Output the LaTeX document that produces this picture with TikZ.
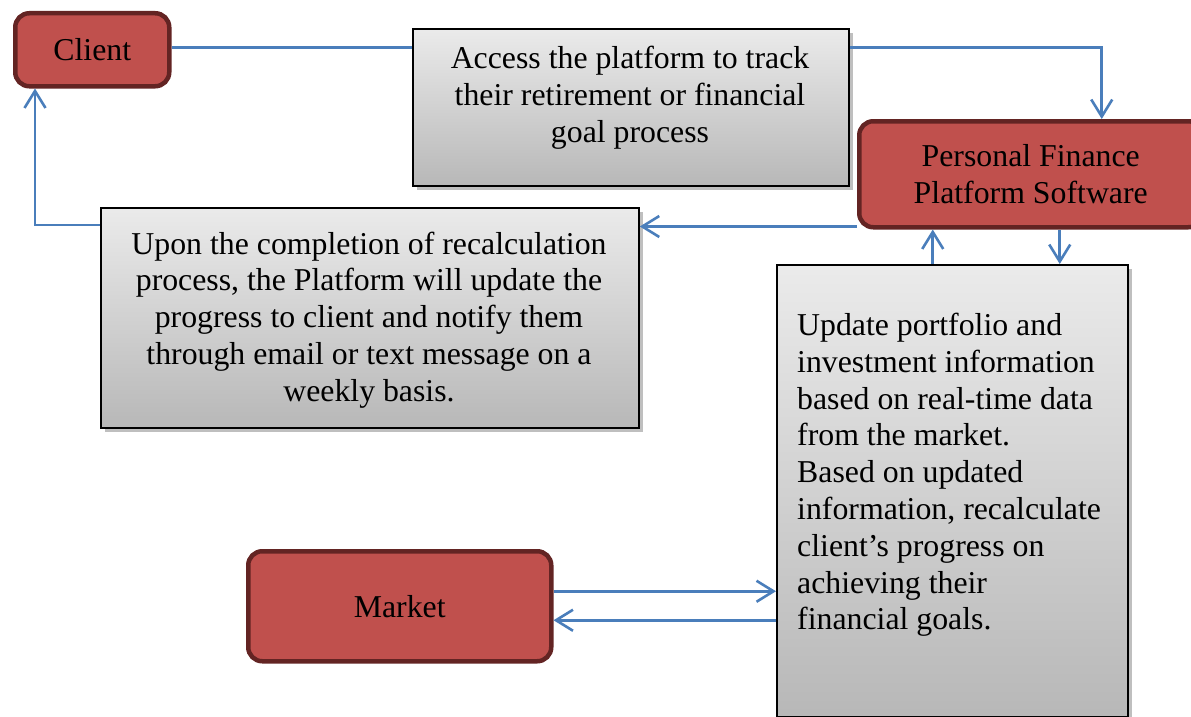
\documentclass[tikz,border=0pt]{standalone}
\usepackage{fontspec}
\setmainfont{Liberation Serif}
\usetikzlibrary{arrows.meta,shadows}
\definecolor{boxred}{HTML}{C0504D}
\definecolor{boxedge}{HTML}{632423}
\definecolor{flowblue}{HTML}{4A7EBB}
\tikzset{
  redbox/.style={draw=boxedge, line width=4.5pt, fill=boxred, rounded corners=14pt,
    inner sep=0pt, anchor=north west, align=center},
  graybox/.style={draw=black, line width=1.8pt, top color=black!8, bottom color=black!28,
    inner sep=0pt, anchor=north west, align=center,
    drop shadow={shadow xshift=4pt, shadow yshift=-4pt, fill=black!25, opacity=1}},
  flow/.style={draw=flowblue, line width=2.6pt,
    -{Straight Barb[length=17pt, width=21pt, line width=2.6pt]}},
  plainflow/.style={draw=flowblue, line width=2.6pt},
  txt/.style={inner sep=0pt, font=\bigfont}
}
\newcommand{\bigfont}{\fontsize{31.8}{36.8}\selectfont}
\begin{document}
\begin{tikzpicture}[x=1pt, y=-1pt, font=\bigfont]
\useasboundingbox (0,0) rectangle (1191,717);

% process nodes
\node[redbox, minimum width=154pt, minimum height=73pt] (client) at (13,11) {Client};
\node[redbox, minimum width=343pt, minimum height=106pt] (pfps) at (857,119)
  {Personal Finance\\Platform Software};
\node[redbox, minimum width=303pt, minimum height=110pt] (market) at (246,549) {Market};

% description boxes
\node[graybox, minimum width=436pt, minimum height=157pt] (access) at (412,28) {};
\node[txt, align=center] (accesstxt) at (630,98)
  {Access the platform to track\\their retirement or financial\\goal process};

\node[graybox, minimum width=538pt, minimum height=220pt] (upon) at (100,207) {};
\node[txt, align=center] (upontxt) at (369,320)
  {Upon the completion of recalculation\\process, the Platform will update the\\progress to client and notify them\\through email or text message on a\\weekly basis.};

\node[graybox, minimum width=351pt, minimum height=452pt] (update) at (776,264) {};
\node[txt, align=left, anchor=west] (updatetxt) at (797,475)
  {Update portfolio and\\investment information\\based on real-time data\\from the market.\\Based on updated\\information, recalculate\\client’s progress on\\achieving their\\financial goals.};

% connectors
\draw[plainflow] ([yshift=2pt]client.east) -- ([yshift=2pt]client.east -| access.west);
\draw[flow] ([yshift=2pt]client.east -| access.east) -| ([xshift=71pt]pfps.north);
\draw[flow] ([yshift=3pt]pfps.south west) -- ([yshift=3pt]pfps.south west -| upon.east);
\draw[flow] ([yshift=-18pt]upon.north west) -| ([xshift=22pt]client.south west);
\draw[flow] ([xshift=29pt]pfps.south) -- ([xshift=29pt]pfps.south |- update.north);
\draw[flow] ([xshift=-98pt]pfps.south |- update.north) -- ([xshift=-98pt]pfps.south);
\draw[flow] ([yshift=15pt]market.east) -- ([yshift=15pt]market.east -| update.west);
\draw[flow] ([yshift=-14pt]market.east -| update.west) -- ([yshift=-14pt]market.east);
\end{tikzpicture}
\end{document}
